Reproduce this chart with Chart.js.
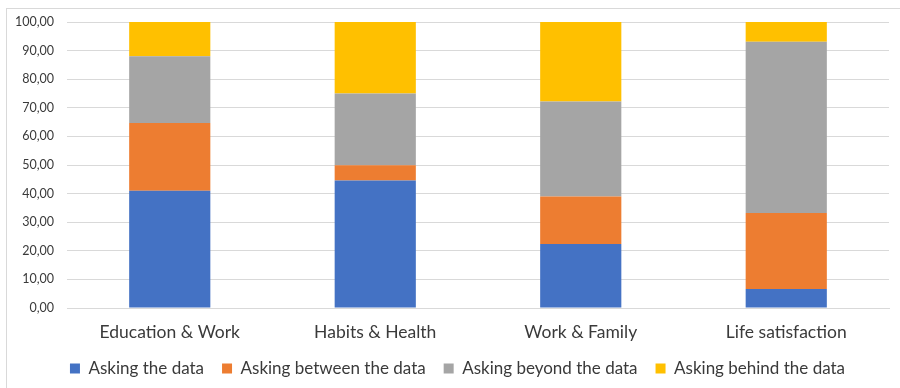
<!DOCTYPE html>
<html>
<head>
<meta charset="utf-8">
<script src="https://cdn.jsdelivr.net/npm/chart.js@4"></script>
<style>
  html, body { margin: 0; padding: 0; background: #fff; }
  #wrap { position: relative; width: 900px; height: 388px; }
  #frame {
    position: absolute; left: 6px; top: 8px; right: 0; bottom: 0;
    border-left: 1px solid #d9d9d9; border-top: 1px solid #d9d9d9;
    pointer-events: none;
  }
  canvas { position: absolute; left: 0; top: 0; }
</style>
</head>
<body>
<div id="wrap">
  <canvas id="chart" width="900" height="388"></canvas>
  <div id="frame"></div>
</div>
<script>
const categories = ["Education & Work", "Habits & Health", "Work & Family", "Life satisfaction"];

const askingThe = [41.0, 44.6, 22.4, 6.6];
const askingBetween = [23.7, 5.3, 16.6, 26.6];
const askingBeyond = [23.3, 25.1, 33.2, 59.9];
const askingBehind = [12.0, 25.0, 27.8, 6.9];

const seriesNames = ["Asking the data", "Asking between the data", "Asking beyond the data", "Asking behind the data"];
const colors = ["#4472C4", "#ED7D31", "#A5A5A5", "#FFC000"];

const FONT = "Lato, 'Open Sans', sans-serif";
const TEXT = "#3a3a3a";

const values = [askingThe, askingBetween, askingBeyond, askingBehind];

// nudge the legend a little to the right of the canvas centre
const legendShift = {
  id: "legendShift",
  afterLayout(chart) {
    const lg = chart.legend;
    lg.left += 13;
    lg.right += 13;
  }
};

new Chart(document.getElementById("chart"), {
  type: "bar",
  data: {
    labels: categories,
    datasets: values.map((v, i) => ({
      label: seriesNames[i],
      data: v,
      backgroundColor: colors[i],
      borderWidth: 0,
      categoryPercentage: 1,
      barPercentage: 0.395
    }))
  },
  options: {
    responsive: false,
    animation: false,
    layout: { padding: { top: 22, right: 11, bottom: 1, left: 0 } },
    plugins: {
      tooltip: { enabled: false },
      legend: {
        position: "bottom",
        labels: {
          boxWidth: 10,
          boxHeight: 10,
          padding: 18,
          color: TEXT,
          font: { family: FONT, size: 17 }
        }
      }
    },
    scales: {
      x: {
        stacked: true,
        grid: { display: false, drawTicks: false },
        border: { color: "#d9d9d9" },
        ticks: { color: TEXT, padding: 14, font: { family: FONT, size: 17.5 } },
        afterFit: s => { s.height = 34; }
      },
      y: {
        stacked: true,
        min: 0,
        max: 100,
        grid: { color: "#d9d9d9", drawTicks: false },
        border: { display: false },
        ticks: {
          stepSize: 10,
          padding: 13,
          color: TEXT,
          font: { family: FONT, size: 12.5 },
          callback: v => v.toFixed(2).replace(".", ",")
        },
        afterFit: s => { s.width = 67; }
      }
    }
  },
  plugins: [legendShift]
});
</script>
</body>
</html>
